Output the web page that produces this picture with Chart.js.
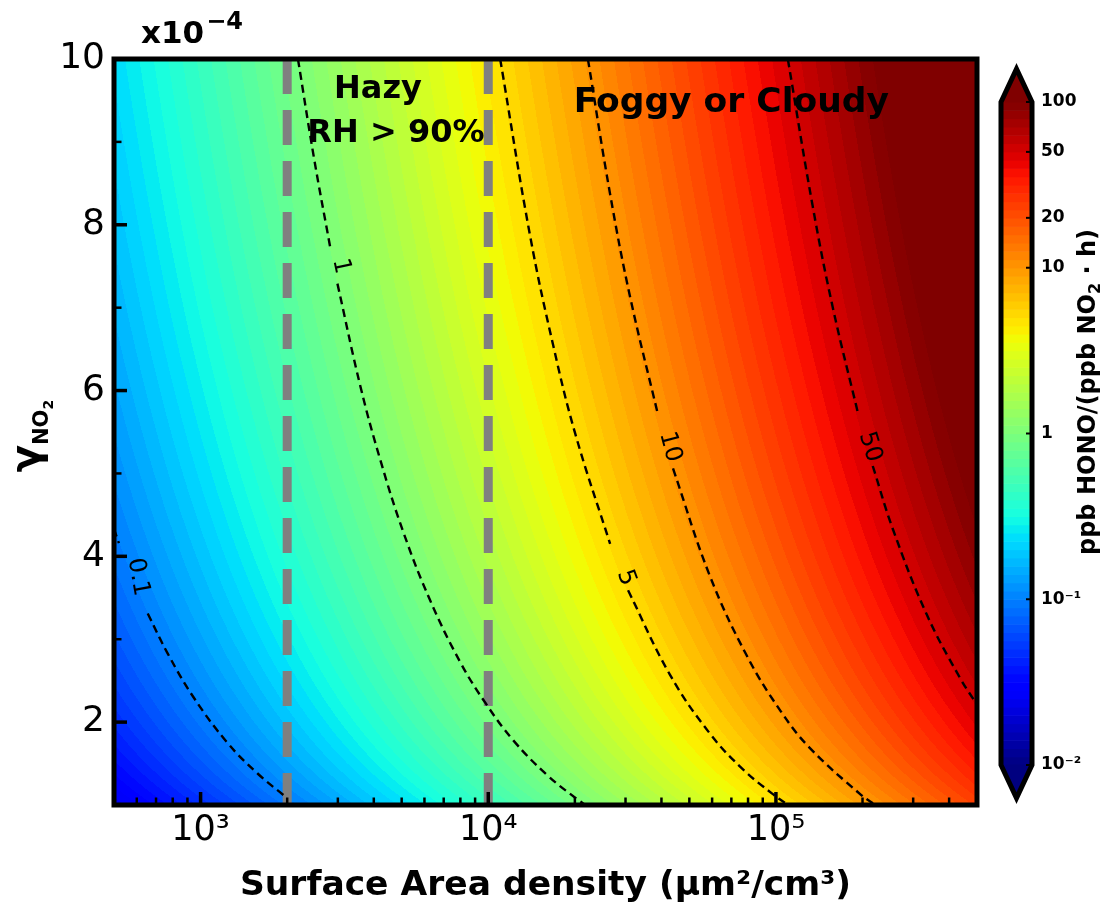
<!DOCTYPE html>
<html><head><meta charset="utf-8">
<script src="https://cdn.jsdelivr.net/npm/chart.js@4.4.1/dist/chart.umd.min.js"></script>
<style>
html,body{margin:0;padding:0;background:#fff;}
#wrap{position:relative;width:1104px;height:904px;}
canvas{position:absolute;top:0;}
</style>
</head><body>
<div id="wrap">
<canvas id="main" width="1104" height="904" style="left:0"></canvas>
<canvas id="cbar" width="144" height="904" style="left:960px"></canvas>
</div>
<script>
// ---------------- data ----------------
// grid nodes: surface area density (um2/cm3) and gamma (x1e-4)
const surfaceAreaNodes = [500, 1000, 2000, 5000, 10000, 20000, 50000, 100000, 200000, 500000];
const gammaNodes = [1, 2, 3, 4, 5, 6, 7, 8, 9, 10];
// ppb HONO/(ppb NO2 h) at each surface-area node, one row per gamma node
const rateAtGamma1  = [0.023, 0.046, 0.092, 0.230, 0.461, 0.922, 2.30, 4.61, 9.22, 23.0];
const rateAtGamma2  = [0.046, 0.092, 0.184, 0.461, 0.922, 1.84, 4.61, 9.22, 18.4, 46.1];
const rateAtGamma3  = [0.069, 0.138, 0.276, 0.691, 1.38, 2.76, 6.91, 13.8, 27.6, 69.1];
const rateAtGamma4  = [0.092, 0.184, 0.369, 0.922, 1.84, 3.69, 9.22, 18.4, 36.9, 92.2];
const rateAtGamma5  = [0.115, 0.230, 0.461, 1.15, 2.30, 4.61, 11.5, 23.0, 46.1, 115];
const rateAtGamma6  = [0.138, 0.276, 0.553, 1.38, 2.76, 5.53, 13.8, 27.6, 55.3, 138];
const rateAtGamma7  = [0.161, 0.323, 0.645, 1.61, 3.23, 6.45, 16.1, 32.3, 64.5, 161];
const rateAtGamma8  = [0.184, 0.369, 0.737, 1.84, 3.69, 7.37, 18.4, 36.9, 73.7, 184];
const rateAtGamma9  = [0.207, 0.415, 0.829, 2.07, 4.15, 8.29, 20.7, 41.5, 82.9, 207];
const rateAtGamma10 = [0.230, 0.461, 0.922, 2.30, 4.61, 9.22, 23.0, 46.1, 92.2, 230];
const rateGrid = [rateAtGamma1, rateAtGamma2, rateAtGamma3, rateAtGamma4, rateAtGamma5,
                  rateAtGamma6, rateAtGamma7, rateAtGamma8, rateAtGamma9, rateAtGamma10];

// contour lines [surface area, gamma]; null = gap for the inline label
const contour01 = [[500,4.33],[520,4.16],null,[655,3.31],[768,2.83],[945,2.30],[1240,1.75],[1578,1.38],[1942,1.12],[2000,1.09]];
const contour1  = [[2180,10.0],[2480,8.80],[2825,7.72],null,[2990,7.29],[3594,6.05],[4217,5.16],[5070,4.29],[6295,3.46],[8000,2.72],[9780,2.23],[12220,1.78],[16030,1.36],[20370,1.07],[21800,1.0]];
const contour5  = [[11000,10.0],[13990,7.86],[16830,6.54],[20060,5.48],[26520,4.15],null,[30620,3.59],[42840,2.57],[59000,1.86],[76800,1.43],[96800,1.14],[110000,1.0]];
const contour10 = [[22200,10.0],[26520,8.37],[31120,7.13],[38900,5.71],null,[43880,5.06],[59000,3.76],[79250,2.80],[104000,2.13],[131000,1.69],[198000,1.12],[222000,1.0]];
const contour50 = [[110000,10.0],[134300,8.22],[157700,7.00],[192800,5.73],null,[217100,5.09],[254900,4.33],[334200,3.30],[435300,2.54],[502300,2.20]];
const contourLines  = [contour01, contour1, contour5, contour10, contour50];
const contourTexts  = ['0.1', '1', '5', '10', '50'];
const contourLabelS = [606, 3076, 30100, 42800, 212200];
const contourLabelG = [3.75, 7.50, 3.74, 5.32, 5.32];
const contourLabelAngles = [80, 78, 70, 75, 73];

// regime boundaries (surface area density)
const regimeBounds = [2000, 10000];

// tick values / labels
const xTickValues = [1000, 10000, 100000];
const xTickLabels = ['10\u00B3', '10\u2074', '10\u2075'];
const xMinorTicks = [600,700,800,900,2000,3000,4000,5000,6000,7000,8000,9000,20000,30000,40000,50000,60000,70000,80000,90000,200000,300000,400000];
const yTickValues = [2, 4, 6, 8, 10];
const yTickLabels = ['2', '4', '6', '8', '10'];
const yMinorTicks = [3, 5, 7, 9];
const cbTickValues = [0.01, 0.1, 1, 10, 20, 50, 100];
const cbTickLabels = ['10\u207B\u00B2', '10\u207B\u00B9', '1', '10', '20', '50', '100'];

// ---------------- colour map (matplotlib jet) ----------------
const JET = {
  r: [[0,0],[0.35,0],[0.66,1],[0.89,1],[1,0.5]],
  g: [[0,0],[0.125,0],[0.375,1],[0.64,1],[0.91,0],[1,0]],
  b: [[0,0.5],[0.11,1],[0.34,1],[0.65,0],[1,0]]
};
function seg(pts, t) {
  for (let i = 0; i < pts.length - 1; i++) {
    if (t <= pts[i+1][0]) {
      const f = (t - pts[i][0]) / (pts[i+1][0] - pts[i][0]);
      return pts[i][1] + f * (pts[i+1][1] - pts[i][1]);
    }
  }
  return pts[pts.length-1][1];
}
function jet(t) {
  t = Math.max(0, Math.min(1, t));
  return [seg(JET.r,t), seg(JET.g,t), seg(JET.b,t)].map(v => Math.round(v*255));
}
const LOG_MIN = -2, LOG_MAX = 2, PER_DECADE = 20;
const NBANDS = (LOG_MAX - LOG_MIN) * PER_DECADE;
const bandColors = [];
for (let k = 0; k < NBANDS; k++) {
  const lo = Math.pow(10, LOG_MIN + k / PER_DECADE), hi = Math.pow(10, LOG_MIN + (k+1) / PER_DECADE);
  bandColors.push(jet((Math.log10((lo+hi)/2) - LOG_MIN) / (LOG_MAX - LOG_MIN)));
}
const underColor = jet(0), overColor = jet(1);
function colorForLog(lv) {
  if (lv < LOG_MIN) return underColor;
  if (lv >= LOG_MAX) return overColor;
  return bandColors[Math.min(NBANDS-1, Math.floor((lv - LOG_MIN) * PER_DECADE))];
}
const rgb = c => `rgb(${c[0]},${c[1]},${c[2]})`;

// ---------------- heat map plugin ----------------
const heatPlugin = {
  id: 'heat',
  beforeDatasetsDraw(chart) {
    const {ctx, chartArea: a, scales: {x, y}} = chart;
    const L = Math.floor(a.left) - 2, T = Math.floor(a.top) - 2;
    const W = Math.ceil(a.right) + 2 - L, H = Math.ceil(a.bottom) + 2 - T;
    const lsN = surfaceAreaNodes.map(Math.log10);
    const lgN = gammaNodes.map(Math.log10);
    const lg = rateGrid.map(r => r.map(Math.log10));
    const ci = [], ct = [], ri = [], rt = [];
    for (let i = 0; i < W; i++) {
      const l = Math.log10(x.getValueForPixel(L + i + 0.5));
      let k = 0; while (k < lsN.length - 2 && l > lsN[k+1]) k++;
      ci.push(k); ct.push(Math.max(0, Math.min(1, (l - lsN[k]) / (lsN[k+1] - lsN[k]))));
    }
    for (let j = 0; j < H; j++) {
      const g = Math.log10(Math.max(0.5, y.getValueForPixel(T + j + 0.5)));
      let k = 0; while (k < lgN.length - 2 && g > lgN[k+1]) k++;
      ri.push(k); rt.push(Math.max(0, Math.min(1, (g - lgN[k]) / (lgN[k+1] - lgN[k]))));
    }
    const off = document.createElement('canvas'); off.width = W; off.height = H;
    const octx = off.getContext('2d');
    const img = octx.createImageData(W, H);
    const d = img.data;
    for (let j = 0; j < H; j++) {
      const r = ri[j], v = rt[j];
      for (let i = 0; i < W; i++) {
        const c = ci[i], u = ct[i];
        const a0 = lg[r][c] * (1-u) + lg[r][c+1] * u;
        const a1 = lg[r+1][c] * (1-u) + lg[r+1][c+1] * u;
        const col = colorForLog(a0 * (1-v) + a1 * v);
        const p = (j * W + i) * 4;
        d[p] = col[0]; d[p+1] = col[1]; d[p+2] = col[2]; d[p+3] = 255;
      }
    }
    octx.putImageData(img, 0, 0);
    ctx.save();
    ctx.beginPath(); ctx.rect(a.left, a.top, a.right - a.left, a.bottom - a.top); ctx.clip();
    ctx.drawImage(off, L, T);
    ctx.restore();
  }
};

// ---------------- decorations plugin ----------------
const FONT = '"DejaVu Sans", sans-serif';
const decorPlugin = {
  id: 'decor',
  afterDraw(chart) {
    const {ctx, chartArea: a, scales: {x, y}} = chart;
    ctx.save();
    // contour labels
    ctx.fillStyle = '#000';
    ctx.font = `24px ${FONT}`;
    ctx.textAlign = 'center'; ctx.textBaseline = 'middle';
    contourTexts.forEach((t, n) => {
      ctx.save();
      ctx.translate(x.getPixelForValue(contourLabelS[n]), y.getPixelForValue(contourLabelG[n]));
      ctx.rotate(contourLabelAngles[n] * Math.PI / 180);
      ctx.fillText(t, 0, 0);
      ctx.restore();
    });
    // inward ticks
    ctx.strokeStyle = '#000'; ctx.lineCap = 'butt';
    const tick = (x1, y1, x2, y2, w) => { ctx.lineWidth = w; ctx.beginPath(); ctx.moveTo(x1,y1); ctx.lineTo(x2,y2); ctx.stroke(); };
    xTickValues.forEach(v => { const p = x.getPixelForValue(v); tick(p, a.bottom, p, a.bottom - 13, 3.5); });
    xMinorTicks.forEach(v => { const p = x.getPixelForValue(v); tick(p, a.bottom, p, a.bottom - 7.5, 2.5); });
    yTickValues.forEach(v => { if (v >= 10) return; const p = y.getPixelForValue(v); tick(a.left, p, a.left + 13, p, 3.5); });
    yMinorTicks.forEach(v => { const p = y.getPixelForValue(v); tick(a.left, p, a.left + 7.5, p, 2.5); });
    // frame
    ctx.lineWidth = 5; ctx.lineJoin = 'miter';
    ctx.strokeRect(a.left, a.top, a.right - a.left, a.bottom - a.top);
    // region annotations
    ctx.textAlign = 'center'; ctx.textBaseline = 'alphabetic';
    ctx.font = `bold 32px ${FONT}`;
    ctx.fillText('Hazy', x.getPixelForValue(4137), y.getPixelForValue(9.53));
    ctx.fillText('RH > 90%', x.getPixelForValue(4775), y.getPixelForValue(9.00));
    ctx.font = `bold 34.5px ${FONT}`;
    ctx.fillText('Foggy or Cloudy', x.getPixelForValue(70000), y.getPixelForValue(9.36));
    // x10^-4 multiplier
    ctx.textAlign = 'left';
    ctx.font = `bold 31px ${FONT}`;
    ctx.fillText('x10', a.left + 27, a.top - 16);
    const w10 = ctx.measureText('x10').width;
    ctx.font = `bold 24px ${FONT}`;
    ctx.fillText('\u22124', a.left + 27 + w10 + 2, a.top - 30);
    // x axis title
    ctx.textAlign = 'center';
    ctx.font = `bold 34.5px ${FONT}`;
    ctx.fillText('Surface Area density (\u03BCm\u00B2/cm\u00B3)', (a.left + a.right) / 2, 895);
    // y axis title: gamma_NO2
    ctx.save();
    ctx.translate(39, (a.top + a.bottom) / 2 + 4);
    ctx.rotate(-Math.PI / 2);
    ctx.textAlign = 'left';
    const parts = [['\u03B3', 40, 0], ['NO', 21, 9], ['2', 14, 14]];
    let tw = 0;
    parts.forEach(p => { ctx.font = `bold ${p[1]}px ${FONT}`; tw += ctx.measureText(p[0]).width; });
    let cx = -tw / 2;
    parts.forEach(p => { ctx.font = `bold ${p[1]}px ${FONT}`; ctx.fillText(p[0], cx, p[2]); cx += ctx.measureText(p[0]).width; });
    ctx.restore();
    ctx.restore();
  }
};

// ---------------- main chart ----------------
const contourDatasets = contourLines.map(line => ({
  data: line.map((p, i) => p ? {x: p[0], y: p[1]} : {x: line[i-1][0], y: null}),
  borderColor: '#000', borderWidth: 2.4, borderDash: [8, 5],
  pointRadius: 0, fill: false, spanGaps: false,
  tension: 0.4, order: 1
}));
const boundDatasets = regimeBounds.map(s => ({
  data: [{x: s, y: 10}, {x: s, y: 1}],
  borderColor: '#808080', borderWidth: 9, borderDash: [35, 16], borderCapStyle: 'butt',
  pointRadius: 0, fill: false, order: 2
}));

new Chart(document.getElementById('main'), {
  type: 'line',
  data: { datasets: [...contourDatasets, ...boundDatasets] },
  options: {
    responsive: false, animation: false, devicePixelRatio: 1,
    layout: { padding: { left: 0, top: 59, right: 127, bottom: 0 } },
    plugins: { legend: { display: false }, tooltip: { enabled: false } },
    scales: {
      x: {
        type: 'logarithmic', min: 500, max: 500000,
        grid: { display: false, drawTicks: false }, border: { display: false },
        ticks: { font: { family: 'DejaVu Sans', size: 35 }, color: '#000', padding: 5,
                 autoSkip: false, maxRotation: 0, callback: (v, i) => xTickLabels[i] },
        afterBuildTicks: s => { s.ticks = xTickValues.map(v => ({ value: v })); },
        afterFit: s => { s.height = 99; }
      },
      y: {
        type: 'linear', min: 1, max: 10,
        grid: { display: false, drawTicks: false }, border: { display: false },
        ticks: { font: { family: 'DejaVu Sans', size: 36 }, color: '#000', padding: 9,
                 autoSkip: false, callback: (v, i) => yTickLabels[i] },
        afterBuildTicks: s => { s.ticks = yTickValues.map(v => ({ value: v })); },
        afterFit: s => { s.width = 114; }
      }
    }
  },
  plugins: [heatPlugin, decorPlugin]
});

// ---------------- colour bar ----------------
const cbarPlugin = {
  id: 'cbarDraw',
  afterDraw(chart) {
    const {ctx, chartArea: a, scales: {y}} = chart;
    const L = a.left, R = a.right, C = (L + R) / 2;
    const top = y.getPixelForValue(100), bot = y.getPixelForValue(0.01);
    const ext = 33;
    ctx.save();
    for (let k = 0; k < NBANDS; k++) {
      const lo = Math.pow(10, LOG_MIN + k / PER_DECADE), hi = Math.pow(10, LOG_MIN + (k+1) / PER_DECADE);
      const y1 = y.getPixelForValue(lo), y2 = y.getPixelForValue(hi);
      ctx.fillStyle = rgb(bandColors[k]);
      ctx.fillRect(L, y2, R - L, y1 - y2 + 0.6);
    }
    ctx.fillStyle = rgb(overColor);
    ctx.beginPath(); ctx.moveTo(L, top + 0.5); ctx.lineTo(C, top - ext); ctx.lineTo(R, top + 0.5); ctx.closePath(); ctx.fill();
    ctx.fillStyle = rgb(underColor);
    ctx.beginPath(); ctx.moveTo(L, bot - 0.5); ctx.lineTo(C, bot + ext); ctx.lineTo(R, bot - 0.5); ctx.closePath(); ctx.fill();
    // ticks (inward, right side)
    ctx.strokeStyle = '#000'; ctx.lineWidth = 2;
    cbTickValues.forEach(v => { const p = y.getPixelForValue(v); ctx.beginPath(); ctx.moveTo(R, p); ctx.lineTo(R - 6, p); ctx.stroke(); });
    // outline
    ctx.lineWidth = 5; ctx.lineJoin = 'miter'; ctx.miterLimit = 10;
    ctx.beginPath();
    ctx.moveTo(L, top); ctx.lineTo(C, top - ext); ctx.lineTo(R, top);
    ctx.lineTo(R, bot); ctx.lineTo(C, bot + ext); ctx.lineTo(L, bot); ctx.closePath();
    ctx.stroke();
    // label
    ctx.fillStyle = '#000';
    ctx.translate(135, 392);
    ctx.rotate(-Math.PI / 2);
    ctx.textAlign = 'left'; ctx.textBaseline = 'alphabetic';
    const parts = [['ppb HONO/(ppb NO', 24, 0], ['2', 16, 5], [' \u00B7 h)', 24, 0]];
    let tw = 0;
    parts.forEach(p => { ctx.font = `bold ${p[1]}px ${FONT}`; tw += ctx.measureText(p[0]).width; });
    let cx = -tw / 2;
    parts.forEach(p => { ctx.font = `bold ${p[1]}px ${FONT}`; ctx.fillText(p[0], cx, p[2]); cx += ctx.measureText(p[0]).width; });
    ctx.restore();
  }
};

new Chart(document.getElementById('cbar'), {
  type: 'line',
  data: { datasets: [] },
  options: {
    responsive: false, animation: false, devicePixelRatio: 1,
    layout: { padding: { left: 41, top: 102, right: 0, bottom: 139 } },
    plugins: { legend: { display: false }, tooltip: { enabled: false } },
    scales: {
      x: { display: false },
      y: {
        type: 'logarithmic', position: 'right', min: 0.01, max: 100,
        grid: { display: false, drawTicks: false }, border: { display: false },
        ticks: { font: { family: 'DejaVu Sans', size: 17, weight: 'bold' }, color: '#000', padding: 9,
                 autoSkip: false, callback: (v, i) => cbTickLabels[i] },
        afterBuildTicks: s => { s.ticks = cbTickValues.map(v => ({ value: v })); },
        afterFit: s => { s.width = 72; }
      }
    }
  },
  plugins: [cbarPlugin]
});
</script>
</body></html>
